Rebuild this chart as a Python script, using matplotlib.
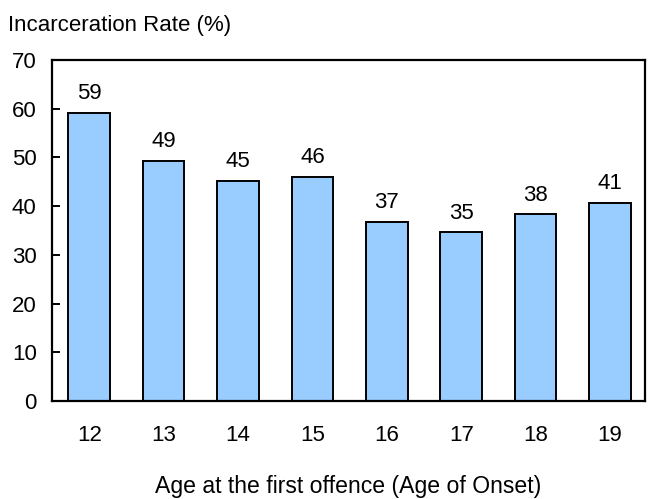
import matplotlib.pyplot as plt
import numpy as np

#%% data
ages = ['12', '13', '14', '15', '16', '17', '18', '19']
rates = [59.1, 49.3, 45.2, 46.0, 36.7, 34.6, 38.3, 40.7]
labels = ['59', '49', '45', '46', '37', '35', '38', '41']

#%% plot
plt.rcParams['font.family'] = ['Liberation Sans', 'DejaVu Sans']
fs = 16
fig = plt.figure(figsize=[6.49, 4.99], dpi=100)
ax = fig.add_axes([52/649, 1-401/499, (645-52)/649, (401-60)/499])

x = np.arange(len(ages))
bars = ax.bar(x, rates, width=0.56, color='#99CCFF', edgecolor='black', linewidth=1.4)
for xi, r, lab in zip(x, rates, labels):
    ax.annotate(lab, (xi, r), xytext=(0, 10), textcoords='offset points',
                ha='center', va='baseline', fontsize=fs)

ax.set_xlim(-0.5, 7.47)
ax.set_ylim(0, 70)
ax.set_yticks(np.arange(0, 71, 10))
ax.set_xticks(x)
ax.set_xticklabels(ages)
ax.tick_params(axis='y', direction='in', length=6, width=1.4, pad=11, labelsize=fs)
ax.tick_params(axis='x', length=0, pad=17, labelsize=fs)
for s in ax.spines.values():
    s.set_linewidth(1.6)

fig.text(8/649, 1-25/499, 'Incarceration Rate (%)', fontsize=fs, va='center', ha='left')
fig.text(348/649, 1-486/499, 'Age at the first offence (Age of Onset)', fontsize=16.6,
         va='center', ha='center')

fig.savefig('out.png', dpi=100)
